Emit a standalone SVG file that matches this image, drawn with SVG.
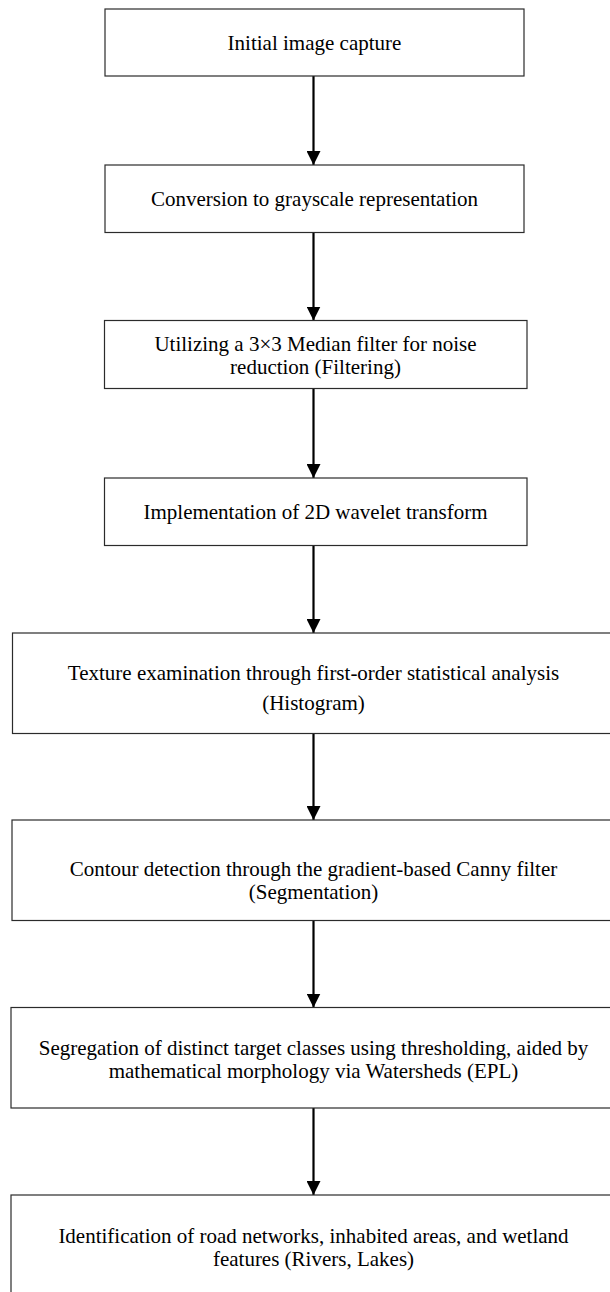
<svg xmlns="http://www.w3.org/2000/svg" width="610" height="1292" viewBox="0 0 610 1292">
<defs>
<style>
.box{fill:#ffffff;stroke:#2b2b2b;stroke-width:1.2}
.lbl{font-family:"Liberation Serif","Times New Roman",serif;font-size:21px;fill:#000;text-anchor:middle}
.conn{stroke:#000;stroke-width:2.2;fill:none}
</style>
<marker id="ah" viewBox="0 0 14 14" refX="14" refY="7" markerWidth="14" markerHeight="14" markerUnits="userSpaceOnUse" orient="auto">
<path d="M0,0 L14,7 L0,14 Z" fill="#000"/>
</marker>
</defs>
<rect width="610" height="1292" fill="#ffffff"/>
<g id="connectors">
<line class="conn" x1="313.5" y1="76" x2="313.5" y2="165" marker-end="url(#ah)"/>
<line class="conn" x1="313.5" y1="232.5" x2="313.5" y2="320.5" marker-end="url(#ah)"/>
<line class="conn" x1="313.5" y1="388.5" x2="313.5" y2="478" marker-end="url(#ah)"/>
<line class="conn" x1="313.5" y1="545.5" x2="313.5" y2="633" marker-end="url(#ah)"/>
<line class="conn" x1="313.5" y1="733.5" x2="313.5" y2="820" marker-end="url(#ah)"/>
<line class="conn" x1="313.5" y1="920.5" x2="313.5" y2="1007.5" marker-end="url(#ah)"/>
<line class="conn" x1="313.5" y1="1108" x2="313.5" y2="1195" marker-end="url(#ah)"/>
</g>
<g id="n1">
<rect class="box" x="105" y="9" width="419" height="67"/>
<text class="lbl" x="314.5" y="49.5">Initial image capture</text>
</g>
<g id="n2">
<rect class="box" x="105" y="165" width="419" height="67.5"/>
<text class="lbl" x="314.5" y="206">Conversion to grayscale representation</text>
</g>
<g id="n3">
<rect class="box" x="104.5" y="320.5" width="422.5" height="68"/>
<text class="lbl" x="315.5" y="350.5">Utilizing a 3×3 Median filter for noise</text>
<text class="lbl" x="315.5" y="373.5">reduction (Filtering)</text>
</g>
<g id="n4">
<rect class="box" x="104.5" y="478" width="422.5" height="67.5"/>
<text class="lbl" x="315.5" y="519">Implementation of 2D wavelet transform</text>
</g>
<g id="n5">
<rect class="box" x="12.5" y="633" width="602" height="100.5"/>
<text class="lbl" x="313.5" y="679.5">Texture examination through first-order statistical analysis</text>
<text class="lbl" x="313.5" y="710">(Histogram)</text>
</g>
<g id="n6">
<rect class="box" x="12" y="820" width="603" height="100.5"/>
<text class="lbl" x="313.5" y="876">Contour detection through the gradient-based Canny filter</text>
<text class="lbl" x="313.5" y="899">(Segmentation)</text>
</g>
<g id="n7">
<rect class="box" x="11" y="1007.5" width="605" height="100.5"/>
<text class="lbl" x="313.5" y="1055">Segregation of distinct target classes using thresholding, aided by</text>
<text class="lbl" x="313.5" y="1078">mathematical morphology via Watersheds (EPL)</text>
</g>
<g id="n8">
<rect class="box" x="11" y="1195" width="605" height="101"/>
<text class="lbl" x="313.5" y="1243">Identification of road networks, inhabited areas, and wetland</text>
<text class="lbl" x="313.5" y="1266">features (Rivers, Lakes)</text>
</g>
</svg>
